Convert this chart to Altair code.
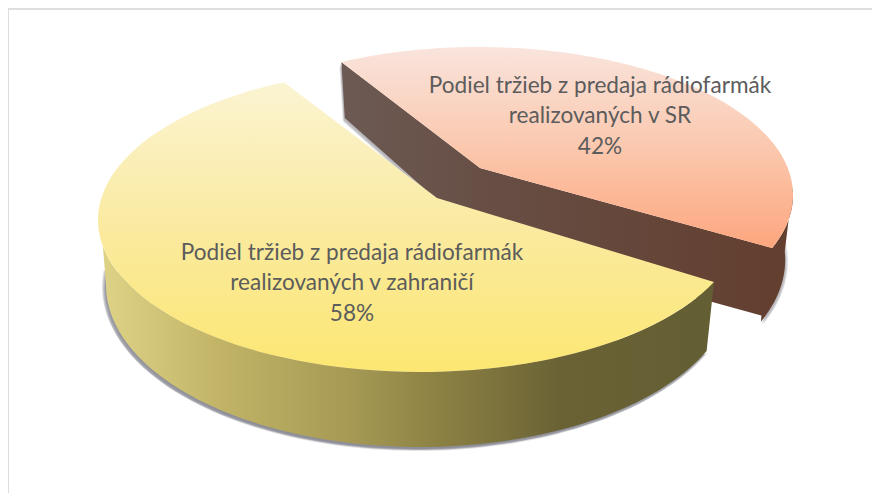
import math
import altair as alt
import pandas as pd

# Chart values
categories = ["Podiel tržieb z predaja rádiofarmák realizovaných v SR",
              "Podiel tržieb z predaja rádiofarmák realizovaných v zahraničí"]
label_lines = [["Podiel tržieb z predaja rádiofarmák", "realizovaných v SR"],
               ["Podiel tržieb z predaja rádiofarmák", "realizovaných v zahraničí"]]
shares = [42, 58]

W, H = 864, 485
X = alt.Scale(domain=[8, 8 + W], nice=False, zero=False)
Y = alt.Scale(domain=[8 + H, 8], nice=False, zero=False)


def grad(stops, horizontal=False):
    return alt.LinearGradient(
        gradient="linear", x1=0, y1=0,
        x2=1 if horizontal else 0, y2=0 if horizontal else 1,
        stops=[alt.GradientStop(offset=o, color=c) for o, c in stops])


class Disc:
    """Perspective view of one exploded slice's disc."""
    def __init__(self, cx, cy, a, b, apex):
        self.cx, self.cy, self.a, self.b, self.apex = cx, cy, a, b, apex

    def top(self, deg):
        t = math.radians(deg)
        return (self.cx + self.a * math.cos(t), self.cy + self.b * math.sin(t))

    def drop(self, p):
        s = (p[1] - self.cy) / self.b
        return (self.cx + (p[0] - self.cx) * 0.975, p[1] + 65 + 10 * s)

    def bottom(self, deg):
        return self.drop(self.top(deg))

    def arc(self, fn, d0, d1, n=90):
        return [fn(d0 + (d1 - d0) * i / n) for i in range(n + 1)]


def shape(points, fill, opacity=1.0, dx=0, dy=0):
    df = pd.DataFrame({
        "x": [p[0] + dx for p in points],
        "y": [p[1] + dy for p in points],
        "o": list(range(len(points))),
    })
    return alt.Chart(df).mark_line(
        fill=fill, strokeWidth=0, strokeOpacity=0, fillOpacity=opacity, interpolate="linear-closed"
    ).encode(
        x=alt.X("x:Q", scale=X, axis=None),
        y=alt.Y("y:Q", scale=Y, axis=None),
        order="o:Q",
    )


# perspective foreshortening of each share's sweep
START = -115.0
red_sweep = shares[0] / 100 * 360 * 0.906
yel_sweep = shares[1] / 100 * 360 * 1.058

red = Disc(479, 195, 314, 148, (480, 168))
yel = Disc(420, 220, 322, 152, (437, 198))

r0, r1 = START - 1, START - 1 + red_sweep
y0 = START
y1 = START - yel_sweep

red_face = [red.apex] + red.arc(red.top, r0, r1)
yel_face = [yel.apex] + yel.arc(yel.top, y0, y1)

# the outer wall starts a little before the corner so no seam shows against the inner wall
red_outer = red.arc(red.top, r1 + 2, -3, 40) + red.arc(red.bottom, -3, r1 + 2, 40)
apex_low = (red.apex[0], red.apex[1] + 70)
red_inner = [red.top(r0), red.apex, red.top(r1), red.bottom(r1), apex_low, red.bottom(r0)]

yel_wall = yel.arc(yel.top, 170, y1 + 360, 90) + yel.arc(yel.bottom, y1 + 360, 180, 90)

shadow_color = "#4f4f5e"
layers = []
# red slice shadow: only along the lower rim
for dx, dy, op in [(2, 3, .14), (1, 2, .2), (3, 1, .12)]:
    layers.append(shape(red.arc(red.bottom, -10, r1 + 2, 40), shadow_color, op, dx, dy))
for dx, dy, op in [(-1, 4, .12), (-2, 3, .16), (-1, 2, .2)]:
    layers.append(shape([red.top(r0), apex_low, red.bottom(r0)], shadow_color, op, dx, dy))
layers.append(shape(red_outer, "#633f30"))
layers.append(shape(red_inner, grad([(0, "#6c5a53"), (0.35, "#674e44"), (1, "#633f30")], True)))
layers.append(shape(red_face, grad([(0, "#f9e4dc"), (0.5, "#fbc8ae"), (1, "#fda67e")])))

# yellow slice shadow: only along the lower rim
for dx, dy, op in [(-4, 2, .18), (-3, 3, .2), (-2, 4, .16), (-1, 3, .22), (1, 2, .14)]:
    layers.append(shape(yel.arc(yel.bottom, 186, y1 + 360, 90), shadow_color, op, dx, dy))
layers.append(shape(yel_wall, grad([(0, "#ddd286"), (0.2, "#c0b366"), (0.4, "#a69a55"),
                                    (0.55, "#8c8143"), (0.75, "#6a6235"), (1, "#635e33")], True)))
layers.append(shape(yel_face, grad([(0, "#fbf4d2"), (0.5, "#faeaa0"), (1, "#fce772")])))

# percentage + name labels
lab_pos = [(600, 86), (352, 253)]
rows = []
for lines, v, (lx, ly) in zip(label_lines, shares, lab_pos):
    for i, t in enumerate(lines + [f"{v}%"]):
        rows.append({"x": lx, "y": ly + i * 30.3, "t": t})
labels = alt.Chart(pd.DataFrame(rows)).mark_text(
    font="Lato", fontSize=22.6, color="#5c5c5c", align="center", baseline="middle"
).encode(
    x=alt.X("x:Q", scale=X, axis=None),
    y=alt.Y("y:Q", scale=Y, axis=None),
    text="t:N",
)

# frame: only top and left edges fall inside the page
frame_df = pd.DataFrame({"x": [8.0, 8.0], "x2": [8.0 + W, 8.0], "y": [9.0, 9.0], "y2": [9.0, 8.0 + H]})
frame = alt.Chart(frame_df).mark_rule(color="#dedede", strokeWidth=2).encode(
    x=alt.X("x:Q", scale=X, axis=None), x2="x2:Q",
    y=alt.Y("y:Q", scale=Y, axis=None), y2="y2:Q",
)

chart = alt.layer(frame, *layers, labels).resolve_scale(x="shared", y="shared").properties(
    width=W, height=H, padding=0, background="#ffffff",
    autosize=alt.AutoSizeParams(type="none"),
).configure_view(stroke=None)

chart.save("out.html", embed_options={"renderer": "svg", "actions": False})
